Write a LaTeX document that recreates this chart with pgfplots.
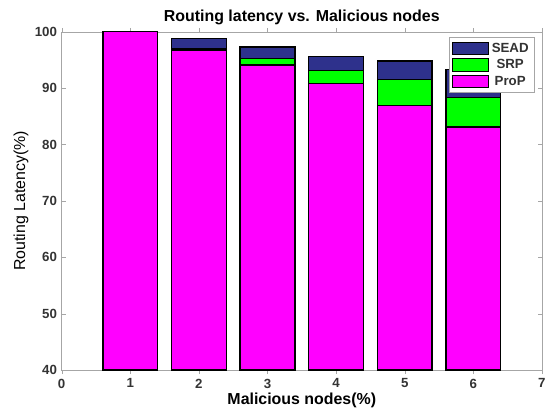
\documentclass[border=0pt]{standalone}
\usepackage{pgfplots}
\pgfplotsset{compat=1.18}
\usepackage{fontspec}
\setmainfont{Liberation Sans}
\definecolor{sead}{RGB}{46,49,140}
\definecolor{srp}{RGB}{0,255,0}
\definecolor{prop}{RGB}{255,0,255}
\begin{document}
\begin{tikzpicture}
\begin{axis}[
  scale only axis,
  width=362pt, height=255pt,
  xmin=0, xmax=7, ymin=40, ymax=100,
  xtick={0,1,2,3,4,5,6,7},
  ytick={40,50,60,70,80,90,100},
  tick align=inside,
  tick pos=both,
  major tick length=3pt,
  axis line style={gray!70},
  tick style={gray!70},
  /pgf/number format/assume math mode=true,
  ticklabel style={font=\fontsize{10}{11}\selectfont\bfseries, text=black!80},
  title={\bfseries Routing latency vs. Malicious nodes},
  title style={font=\fontsize{12}{13}\selectfont, yshift=-4pt},
  xlabel={\bfseries Malicious nodes(\%)},
  ylabel={Routing Latency(\%)},
  xlabel style={font=\fontsize{12}{13}\selectfont, yshift=3pt},
  ylabel style={font=\fontsize{12}{13}\selectfont, yshift=-2pt},
  ybar, bar width=0.8,
  legend style={font=\fontsize{10}{11}\selectfont\bfseries, text=black!80, draw=gray!70, at={(0.984,0.984)}, anchor=north east, row sep=0pt, inner sep=2pt},
  legend image code/.code={\draw[#1, line width=0.8pt] (0cm,-0.16cm) rectangle (0.95cm,0.16cm);},
  clip=true,
]
\addplot[bar shift=0pt, fill=sead, draw=black, line width=1pt] coordinates {(1,100) (2,98.8) (3,97.3) (4,95.6) (5,94.8) (6,93.3)};
\addplot[bar shift=0pt, fill=srp, draw=black, line width=1pt] coordinates {(1,100) (2,97.0) (3,95.3) (4,93.2) (5,91.5) (6,88.3)};
\addplot[bar shift=0pt, fill=prop, draw=black, line width=1pt] coordinates {(1,100) (2,96.8) (3,94.1) (4,90.8) (5,86.9) (6,83.1)};
\legend{SEAD,SRP,ProP}
\end{axis}
\useasboundingbox ([xshift=-46.5pt,yshift=-31.5pt]current axis.south west) rectangle ([xshift=3.75pt,yshift=24pt]current axis.north east);
\end{tikzpicture}
\end{document}
